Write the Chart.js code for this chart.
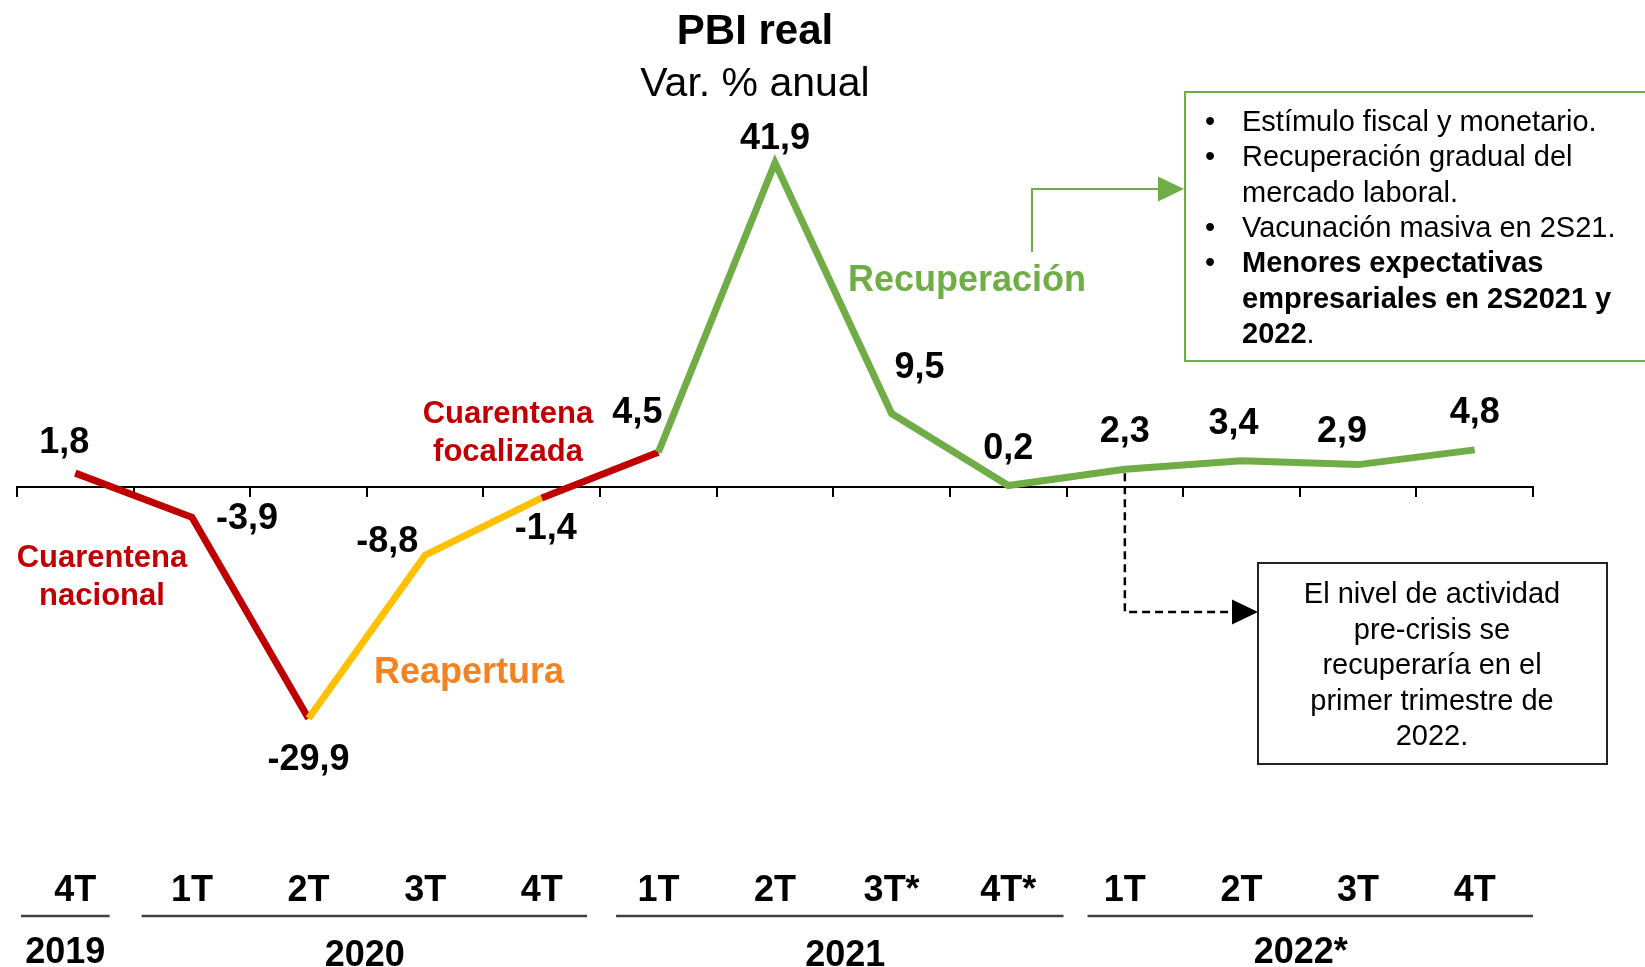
<!DOCTYPE html>
<html>
<head>
<meta charset="utf-8">
<script src="https://cdn.jsdelivr.net/npm/chart.js@4.4.0/dist/chart.umd.min.js"></script>
<style>
  body { margin: 0; background: #fff; }
  canvas { display: block; }
</style>
</head>
<body>
<canvas id="pbiChart" width="1645" height="967"></canvas>
<script>
// Datos del gráfico
const trimestres = ["4T", "1T", "2T", "3T", "4T", "1T", "2T", "3T*", "4T*", "1T", "2T", "3T", "4T"];
const pbiReal = [1.8, -3.9, -29.9, -8.8, -1.4, 4.5, 41.9, 9.5, 0.2, 2.3, 3.4, 2.9, 4.8];
const anios = ["2019", "2020", "2021", "2022*"];
const trimestresPorAnio = [1, 4, 4, 4];

// Desplazamiento de cada etiqueta respecto a su punto (px)
const desplazEtiquetas = [[-11, -30], [55, 2], [0, 42], [-38, -13], [4, 31], [-21, -39], [0, -24],
  [28, -45], [0, -36], [0, -37], [-8, -37], [-16, -33], [0, -37]];

const ROJO = "#C00000";
const AMARILLO = "#FFC000";
const VERDE = "#70AD47";
const NARANJA = "#F5821F";
const FUENTE = '"Liberation Sans", Arial, sans-serif';

// Color de cada tramo de la línea
function colorTramo(i) {
    if (i === 2 || i === 3) return AMARILLO;
    if (i >= 5) return VERDE;
    return ROJO;
}

function texto(ctx, t, x, y, size, bold, color, align) {
    ctx.font = (bold ? "bold " : "") + size + "px " + FUENTE;
    ctx.fillStyle = color || "#000";
    ctx.textAlign = align || "center";
    ctx.textBaseline = "middle";
    ctx.fillText(t, x, y);
}

function flecha(ctx, x, y, color) {
    ctx.fillStyle = color;
    ctx.beginPath();
    ctx.moveTo(x, y);
    ctx.lineTo(x - 26, y - 12.5);
    ctx.lineTo(x - 26, y + 12.5);
    ctx.closePath();
    ctx.fill();
}

const anotaciones = {
    id: "anotaciones",
    afterDraw(chart) {
        const ctx = chart.ctx;
        const xs = chart.scales.x;
        const meta = chart.getDatasetMeta(0);
        ctx.save();

        // Títulos
        texto(ctx, "PBI real", 755, 32, 42, true);
        texto(ctx, "Var. % anual", 755, 85, 41, false);

        // Etiquetas de valores
        meta.data.forEach((p, i) => {
            const v = pbiReal[i].toFixed(1).replace(".", ",");
            texto(ctx, v, p.x + desplazEtiquetas[i][0], p.y + desplazEtiquetas[i][1], 36, true);
        });

        // Fases
        texto(ctx, "Cuarentena", 102, 558, 31, true, ROJO);
        texto(ctx, "nacional", 102, 596, 31, true, ROJO);
        texto(ctx, "Cuarentena", 508, 414, 31, true, ROJO);
        texto(ctx, "focalizada", 508, 452, 31, true, ROJO);
        texto(ctx, "Reapertura", 469, 673, 36, true, NARANJA);
        texto(ctx, "Recuperación", 967, 281, 36, true, VERDE);

        // Flecha verde y recuadro
        ctx.strokeStyle = VERDE;
        ctx.lineWidth = 2;
        ctx.beginPath();
        ctx.moveTo(1032, 252);
        ctx.lineTo(1032, 189);
        ctx.lineTo(1162, 189);
        ctx.stroke();
        flecha(ctx, 1184, 189, VERDE);
        ctx.strokeRect(1185, 92, 520, 269);

        const lineas = [
            ["Estímulo fiscal y monetario.", true, false],
            ["Recuperación gradual del", true, false],
            ["mercado laboral.", false, false],
            ["Vacunación masiva en 2S21.", true, false],
            ["Menores expectativas", true, true],
            ["empresariales en 2S2021 y", false, true],
            ["2022", false, true]
        ];
        lineas.forEach((l, i) => {
            const y = 123 + i * 35.3;
            if (l[1]) texto(ctx, "•", 1210, y, 29, false, "#000", "center");
            texto(ctx, l[0], 1242, y, 29, l[2], "#000", "left");
            if (i === 6) {
                const w = ctx.measureText(l[0]).width;
                texto(ctx, ".", 1242 + w, y, 29, false, "#000", "left");
            }
        });

        // Flecha punteada y recuadro negro
        const p1t22 = meta.data[9];
        ctx.strokeStyle = "#000";
        ctx.lineWidth = 2.5;
        ctx.setLineDash([8, 5]);
        ctx.beginPath();
        ctx.moveTo(p1t22.x, p1t22.y + 4);
        ctx.lineTo(p1t22.x, 612);
        ctx.lineTo(1234, 612);
        ctx.stroke();
        ctx.setLineDash([]);
        flecha(ctx, 1258, 612, "#000");
        ctx.strokeStyle = "#222";
        ctx.lineWidth = 2;
        ctx.strokeRect(1258, 563, 349, 201);
        ["El nivel de actividad", "pre-crisis se", "recuperaría en el", "primer trimestre de", "2022."]
            .forEach((t, i) => texto(ctx, t, 1432, 595 + i * 35.5, 29, false));

        // Eje inferior: trimestres, líneas y años
        trimestres.forEach((t, i) => texto(ctx, t, xs.getPixelForValue(i), 891, 36, true));
        const ancho = xs.getPixelForValue(1) - xs.getPixelForValue(0);
        const margenIzq = [4, 8, 16, 21];
        const margenDer = [24, 13, 3, 0];
        const ajusteX = [-10, -2, 12, 1];
        const ajusteY = [953, 956, 956, 953];
        let inicio = 0;
        anios.forEach((a, k) => {
            const fin = inicio + trimestresPorAnio[k] - 1;
            const x0 = xs.getPixelForValue(inicio) - ancho / 2;
            const x1 = xs.getPixelForValue(fin) + ancho / 2;
            ctx.strokeStyle = "#404040";
            ctx.lineWidth = 2.5;
            ctx.beginPath();
            ctx.moveTo(x0 + margenIzq[k], 916);
            ctx.lineTo(x1 - margenDer[k], 916);
            ctx.stroke();
            const xc = (xs.getPixelForValue(inicio) + xs.getPixelForValue(fin)) / 2;
            texto(ctx, a, xc + ajusteX[k], ajusteY[k], 36, true);
            inicio = fin + 1;
        });

        ctx.restore();
    }
};

const ctx = document.getElementById("pbiChart").getContext("2d");
new Chart(ctx, {
    type: "line",
    data: {
        labels: trimestres,
        datasets: [{
            data: pbiReal,
            borderColor: ROJO,
            borderWidth: 7,
            pointRadius: 0,
            tension: 0,
            segment: {
                borderColor: c => colorTramo(c.p0DataIndex)
            }
        }]
    },
    options: {
        responsive: false,
        animation: false,
        devicePixelRatio: 1,
        layout: { padding: { top: 100, bottom: 209, left: 17, right: 112 } },
        plugins: {
            legend: { display: false },
            tooltip: { enabled: false }
        },
        scales: {
            x: {
                type: "category",
                offset: true,
                position: { y: 0 },
                ticks: { display: false },
                grid: {
                    offset: true,
                    drawOnChartArea: false,
                    drawTicks: true,
                    tickLength: 9,
                    color: "#000",
                    lineWidth: 2
                },
                border: { display: true, color: "#000", width: 2 }
            },
            y: {
                display: false,
                min: -35,
                max: 50
            }
        }
    },
    plugins: [anotaciones]
});
</script>
</body>
</html>
